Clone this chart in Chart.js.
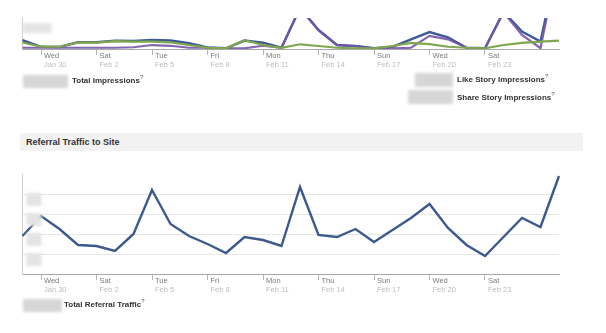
<!DOCTYPE html>
<html>
<head>
<meta charset="utf-8">
<script src="https://cdn.jsdelivr.net/npm/chart.js@4.4.1/dist/chart.umd.min.js"></script>
<style>
body { margin: 0; background: #fff; width: 606px; height: 333px; overflow: hidden; position: relative; font-family: "Liberation Sans", Arial, sans-serif; }
canvas { position: absolute; left: 0; }
.lbl { position: absolute; font-weight: bold; font-size: 8px; color: #333; white-space: nowrap; line-height: 10px; }
.lbl sup { font-size: 6px; color: #555; font-weight: normal; vertical-align: 4px; line-height: 0; }
.blur { position: absolute; background: #d6d6d6; filter: blur(1.5px); }
.bar { position: absolute; left: 20px; top: 133px; width: 563px; height: 18px; background: #f2f2f3; }
.bar span { position: absolute; left: 6px; top: 4px; font-size: 9px; font-weight: bold; color: #333; }
</style>
</head>
<body>
<canvas id="impressions" width="606" height="75" style="top:0"></canvas>
<div class="blur" style="left:23px;top:75px;width:45px;height:13px"></div>
<div class="lbl" style="left:72px;top:76px">Total Impressions<sup>?</sup></div>
<div class="blur" style="left:415px;top:73px;width:38px;height:14px"></div>
<div class="lbl" style="left:457px;top:75px">Like Story Impressions<sup>?</sup></div>
<div class="blur" style="left:408px;top:90px;width:45px;height:14px"></div>
<div class="lbl" style="left:457px;top:93px">Share Story Impressions<sup>?</sup></div>

<div class="bar"><span>Referral Traffic to Site</span></div>

<canvas id="referral" width="606" height="140" style="top:160px"></canvas>
<div class="blur" style="left:23px;top:299px;width:39px;height:13px"></div>
<div class="lbl" style="left:64px;top:300px">Total Referral Traffic<sup>?</sup></div>

<script>
// days shown on both charts
const days = ['Jan 29','Jan 30','Jan 31','Feb 1','Feb 2','Feb 3','Feb 4','Feb 5','Feb 6','Feb 7',
  'Feb 8','Feb 9','Feb 10','Feb 11','Feb 12','Feb 13','Feb 14','Feb 15','Feb 16','Feb 17',
  'Feb 18','Feb 19','Feb 20','Feb 21','Feb 22','Feb 23','Feb 24','Feb 25','Feb 26','Feb 27'];
const weekdays = ['Tue','Wed','Thu','Fri','Sat','Sun','Mon','Tue','Wed','Thu',
  'Fri','Sat','Sun','Mon','Tue','Wed','Thu','Fri','Sat','Sun',
  'Mon','Tue','Wed','Thu','Fri','Sat','Sun','Mon','Tue','Wed'];
const tickDays = ['Jan 30','Feb 2','Feb 5','Feb 8','Feb 11','Feb 14','Feb 17','Feb 20','Feb 23'];

// top chart (cropped at the top)
const totalImpressions = [36,9,8,27,27,33,32,36,34,23,6,3,34,25,5,166,77,16,12,3,9,39,68,47,5,3,150,70,30,377];
const likeStoryImpressions = [5,5,5,5,5,5,7,16,13,5,5,3,3,13,5,164,75,15,11,3,3,5,53,39,5,3,148,57,3,370];
const shareStoryImpressions = [26,9,9,26,26,32,30,30,27,16,5,3,36,16,5,19,12,5,3,3,12,25,20,9,5,3,16,25,30,34];

// bottom chart
const referralTraffic = [38,58,45,29,28,23,40,84,50,38,30,21,37,34,28,87,39,37,45,32,44,56,70,46,29,18,37,56,47,98];

const isTick = i => tickDays.includes(days[i]);

// grey blurred boxes where the y labels were hidden
const blurLabels = {
  id: 'blurLabels',
  afterDraw(chart, args, opts) {
    const { ctx, chartArea, scales } = chart;
    ctx.save();
    ctx.filter = 'blur(1.5px)';
    ctx.fillStyle = '#e4e4e4';
    opts.values.forEach(v => {
      const y = scales.y.getPixelForValue(v);
      ctx.fillRect(chartArea.left + opts.dx, y - 1, opts.width, opts.height);
    });
    ctx.restore();
  }
};

function xScales() {
  return {
    x: {
      grid: { drawOnChartArea: false, tickLength: 6, color: c => isTick(c.index) ? '#b5b5b5' : 'rgba(0,0,0,0)' },
      border: { color: '#a8a8a8' },
      ticks: {
        autoSkip: false, maxRotation: 0, align: 'start', labelOffset: 3, padding: -4,
        color: '#7a7a7a', font: { size: 7.5 },
        callback: (v, i) => isTick(i) ? weekdays[i] : ''
      },
      afterFit: s => { s.height = 10; }
    },
    x2: {
      type: 'category', position: 'bottom',
      grid: { display: false, drawTicks: false }, border: { display: false },
      ticks: {
        autoSkip: false, maxRotation: 0, align: 'start', labelOffset: 3, padding: 1.5,
        color: '#bdbdbd', font: { size: 7.5 },
        callback: (v, i) => isTick(i) ? days[i] : ''
      },
      afterFit: s => { s.height = 16; }
    }
  };
}

function yScale(max, step, gridVals) {
  return {
    min: 0, max: max,
    ticks: { display: false, stepSize: step },
    grid: { drawTicks: false, color: c => gridVals.includes(c.tick.value) ? '#e6e6e6' : 'rgba(0,0,0,0)' },
    border: { color: '#cfcfcf' },
    afterFit: s => { s.width = 0; }
  };
}

Chart.defaults.font.family = '"Liberation Sans", Arial, sans-serif';

new Chart(document.getElementById('impressions'), {
  type: 'line',
  data: {
    labels: days,
    datasets: [
      { label: 'Share Story Impressions', data: shareStoryImpressions, borderColor: '#7fa84e', borderWidth: 2.2 },
      { label: 'Like Story Impressions', data: likeStoryImpressions, borderColor: 'rgba(118,84,168,0.9)', borderWidth: 2.2 },
      { label: 'Total Impressions', data: totalImpressions, borderColor: '#3c5a98', borderWidth: 2.4 }
    ]
  },
  options: {
    responsive: false, animation: false, events: [],
    layout: { padding: { top: 18, left: 22.5, right: 47, bottom: 0 } },
    elements: { point: { radius: 0 }, line: { tension: 0 } },
    plugins: { legend: { display: false }, tooltip: { enabled: false },
      blurLabels: { values: [100], dx: 0, width: 29, height: 10 } },
    scales: Object.assign(xScales(), { y: yScale(125, 100, [100]) })
  },
  plugins: [blurLabels]
});

new Chart(document.getElementById('referral'), {
  type: 'line',
  data: {
    labels: days,
    datasets: [
      { label: 'Total Referral Traffic', data: referralTraffic, borderColor: '#3c5a8e', borderWidth: 2.4 }
    ]
  },
  options: {
    responsive: false, animation: false, events: [],
    layout: { padding: { top: 14, left: 22.5, right: 47, bottom: 0 } },
    elements: { point: { radius: 0 }, line: { tension: 0 } },
    plugins: { legend: { display: false }, tooltip: { enabled: false },
      blurLabels: { values: [20, 40, 60, 80], dx: 4, width: 15, height: 13 } },
    scales: Object.assign(xScales(), { y: yScale(100, 20, [20, 40, 60, 80]) })
  },
  plugins: [blurLabels]
});
</script>
</body>
</html>
